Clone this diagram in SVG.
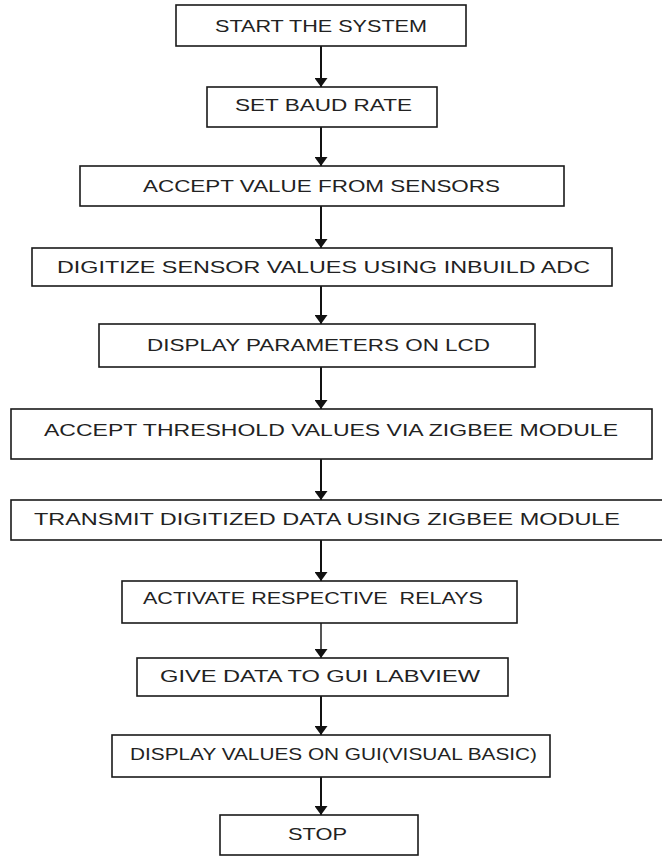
<svg xmlns="http://www.w3.org/2000/svg" width="662" height="858" viewBox="0 0 662 858">
<style>
.box{fill:#fff;stroke:#1a1a1a;stroke-width:1.6}
.lbl{font-family:"Liberation Sans",Arial,sans-serif;font-size:16.5px;fill:#222}
.con{stroke:#111;stroke-width:2;fill:none;marker-end:url(#ah)}
</style>
<defs>
<marker id="ah" markerUnits="userSpaceOnUse" markerWidth="9" markerHeight="13" refX="9" refY="6.5" orient="auto" viewBox="0 0 9 13">
<path d="M0,0 L9,6.5 L0,13 z" fill="#111"/>
</marker>
</defs>
<rect width="662" height="858" fill="#fff"/>
<g id="connectors">
<line class="con" x1="321" y1="46" x2="321" y2="87"/>
<line class="con" x1="321" y1="127" x2="321" y2="166"/>
<line class="con" x1="321" y1="206" x2="321" y2="248"/>
<line class="con" x1="321" y1="286" x2="321" y2="324"/>
<line class="con" x1="321" y1="367" x2="321" y2="409"/>
<line class="con" x1="321" y1="459" x2="321" y2="500"/>
<line class="con" x1="321" y1="540" x2="321" y2="581"/>
<line class="con" x1="321" y1="623" x2="321" y2="658" style="stroke:#555"/>
<line class="con" x1="321" y1="696" x2="321" y2="735"/>
<line class="con" x1="321" y1="777" x2="321" y2="815"/>
</g>
<g id="n1"><rect class="box" x="176" y="5" width="290" height="41"/><text class="lbl" x="215" y="32" textLength="212" lengthAdjust="spacingAndGlyphs">START THE SYSTEM</text></g>
<g id="n2"><rect class="box" x="207" y="87" width="230" height="40"/><text class="lbl" x="235" y="111" textLength="177" lengthAdjust="spacingAndGlyphs">SET BAUD RATE</text></g>
<g id="n3"><rect class="box" x="80" y="166" width="484" height="40"/><text class="lbl" x="143" y="192" textLength="357" lengthAdjust="spacingAndGlyphs">ACCEPT VALUE FROM SENSORS</text></g>
<g id="n4"><rect class="box" x="32" y="248" width="580" height="38"/><text class="lbl" x="57" y="273" textLength="533" lengthAdjust="spacingAndGlyphs">DIGITIZE SENSOR VALUES USING INBUILD ADC</text></g>
<g id="n5"><rect class="box" x="99" y="324" width="436" height="43"/><text class="lbl" x="147" y="351" textLength="343" lengthAdjust="spacingAndGlyphs">DISPLAY PARAMETERS ON LCD</text></g>
<g id="n6"><rect class="box" x="11" y="409" width="641" height="50"/><text class="lbl" x="44" y="436" textLength="574" lengthAdjust="spacingAndGlyphs">ACCEPT THRESHOLD VALUES VIA ZIGBEE MODULE</text></g>
<g id="n7"><rect class="box" x="11" y="500" width="660" height="40"/><text class="lbl" x="34" y="525" textLength="586" lengthAdjust="spacingAndGlyphs">TRANSMIT DIGITIZED DATA USING ZIGBEE MODULE</text></g>
<g id="n8"><rect class="box" x="122" y="581" width="395" height="42"/><text class="lbl" x="143" y="604" textLength="340" lengthAdjust="spacingAndGlyphs" xml:space="preserve">ACTIVATE RESPECTIVE  RELAYS</text></g>
<g id="n9"><rect class="box" x="137" y="658" width="371" height="38"/><text class="lbl" x="160" y="682" textLength="320" lengthAdjust="spacingAndGlyphs">GIVE DATA TO GUI LABVIEW</text></g>
<g id="n10"><rect class="box" x="112" y="735" width="438" height="42"/><text class="lbl" x="130" y="760" textLength="407" lengthAdjust="spacingAndGlyphs">DISPLAY VALUES ON GUI(VISUAL BASIC)</text></g>
<g id="n11"><rect class="box" x="220" y="815" width="198" height="40"/><text class="lbl" x="288" y="840" textLength="59" lengthAdjust="spacingAndGlyphs">STOP</text></g>
</svg>
